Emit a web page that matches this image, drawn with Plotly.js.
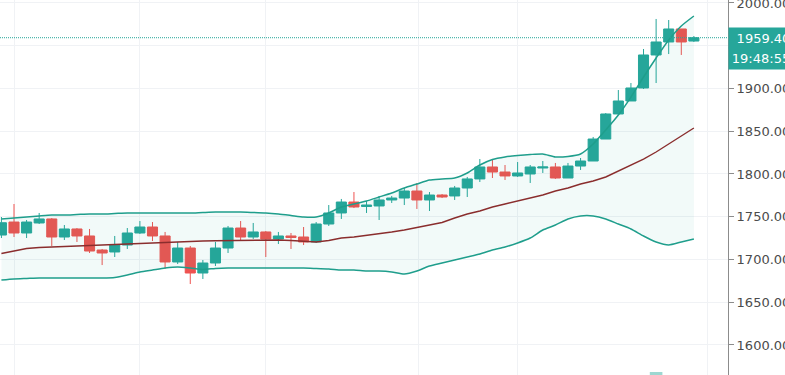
<!DOCTYPE html>
<html>
<head>
<meta charset="utf-8">
<script src="https://cdn.plot.ly/plotly-3.0.1.min.js"></script>
<style>html,body{margin:0;padding:0;background:#fff;}#chart{width:785px;height:375px;}</style>
</head>
<body>
<div id="chart"></div>
<script>
// bar positions (index of each session)
const bars = [-1,0,1,2,3,4,5,6,7,8,9,10,11,12,13,14,15,16,17,18,19,20,21,22,23,24,25,26,27,28,29,30,31,32,33,34,35,36,37,38,39,40,41,42,43,44,45,46,47,48,49,50,51,52,53,54];

const openP  = [1728.6,1743.8,1731.0,1742.7,1747.4,1726.3,1735.7,1727.5,1711.1,1708.8,1716.9,1731.0,1738.0,1727.5,1697.1,1713.4,1684.2,1695.9,1713.4,1736.8,1726.3,1732.2,1724.0,1727.5,1726.3,1720.5,1741.5,1754.4,1767.2,1762.0,1762.6,1769.6,1771.9,1780.1,1769.6,1775.4,1774.3,1783.6,1794.2,1808.2,1802.3,1797.7,1800.0,1807.0,1808.2,1795.3,1809.3,1815.2,1840.9,1870.2,1885.4,1900.6,1939.2,1954.4,1969.6,1955.5];
const highP  = [1749.7,1764.9,1746.2,1754.4,1748.5,1740.3,1736.8,1735.7,1712.3,1727.5,1736.8,1745.0,1743.8,1732.2,1720.5,1715.8,1699.4,1720.5,1739.2,1745.0,1742.7,1733.3,1732.2,1731.0,1738.0,1743.8,1763.7,1770.8,1778.9,1768.4,1774.3,1774.3,1783.6,1789.5,1778.9,1776.6,1786.0,1796.5,1817.5,1816.4,1810.5,1814.0,1810.5,1815.2,1812.9,1812.9,1818.7,1843.3,1871.3,1898.2,1906.4,1946.2,1981.3,1980.1,1969.6,1961.4];
const lowP   = [1725.1,1726.3,1725.1,1741.5,1715.8,1722.8,1720.5,1707.6,1693.5,1702.9,1712.3,1729.8,1721.6,1688.9,1694.7,1671.3,1677.2,1692.4,1707.6,1722.8,1724.0,1702.9,1718.1,1712.3,1716.9,1719.3,1739.2,1747.4,1760.2,1754.4,1746.2,1766.1,1763.7,1759.1,1756.7,1771.9,1769.6,1773.1,1790.6,1795.3,1793.0,1796.5,1789.5,1801.2,1794.2,1795.3,1804.7,1815.2,1840.9,1869.0,1885.4,1899.4,1906.4,1940.3,1939.2,1954.4];
const closeP = [1743.0,1731.0,1743.8,1747.4,1726.3,1735.7,1727.5,1709.9,1707.6,1716.9,1731.0,1738.0,1727.5,1697.1,1713.4,1684.2,1695.9,1713.4,1736.8,1726.3,1732.2,1724.0,1727.5,1725.7,1720.5,1741.5,1754.4,1767.2,1761.4,1763.7,1769.6,1771.9,1780.1,1769.6,1775.4,1773.1,1783.6,1794.2,1808.2,1802.3,1797.7,1801.2,1808.2,1808.2,1795.3,1809.3,1815.2,1840.9,1870.2,1885.4,1900.6,1939.2,1954.4,1969.6,1954.4,1959.4];

// Bollinger bands
const bbUpper = [1747.4,1748.5,1749.7,1750.9,1752.0,1752.0,1752.6,1753.2,1753.2,1753.8,1754.4,1754.4,1754.4,1754.4,1754.4,1754.4,1755.0,1755.5,1755.5,1755.5,1755.0,1754.4,1753.2,1751.5,1749.7,1749.7,1754.4,1761.4,1764.9,1768.4,1773.1,1777.8,1783.6,1788.3,1793.0,1794.2,1795.3,1801.2,1810.5,1816.9,1819.9,1821.6,1822.8,1823.4,1819.9,1820.5,1823.4,1835.1,1851.5,1869.0,1890.0,1913.4,1935.7,1956.7,1973.1,1984.8];
const bbBasis = [1707.0,1709.9,1712.9,1714.0,1714.6,1715.8,1716.1,1716.6,1717.0,1717.5,1718.3,1719.3,1719.5,1720.1,1720.5,1721.0,1721.6,1721.9,1722.2,1722.4,1722.6,1722.8,1722.8,1722.2,1721.0,1720.5,1722.2,1725.1,1726.3,1728.1,1730.4,1732.2,1734.5,1737.4,1740.3,1743.3,1748.5,1753.2,1756.7,1761.4,1764.9,1768.4,1771.9,1775.4,1780.1,1783.6,1788.3,1791.8,1796.5,1803.5,1810.5,1817.5,1825.7,1835.1,1844.4,1853.8];
const bbLower = [1676.0,1677.2,1677.8,1678.4,1678.4,1678.4,1678.4,1678.4,1678.4,1679.0,1681.9,1685.4,1687.7,1690.0,1691.2,1690.0,1688.3,1689.5,1690.0,1690.0,1690.0,1690.0,1690.0,1690.0,1690.0,1689.5,1688.9,1687.7,1687.7,1686.5,1686.5,1685.4,1683.0,1686.5,1692.4,1695.9,1699.4,1702.9,1706.4,1711.1,1714.6,1719.3,1725.1,1734.5,1740.3,1747.4,1750.9,1750.9,1747.4,1741.5,1735.7,1727.5,1720.5,1717.0,1720.5,1724.0];

const yTicks = [1600,1650,1700,1750,1800,1850,1900,1950,2000];
const timeGrid = [0,10,20,32.1,40,55.1];
const lastPrice = 1959.40;
const lastPriceText = "1959.40";
const countdownText = "19:48:55";

const teal = '#26a69a', red = '#ef5350';

const traces = [
  {x: bars, y: bbUpper, type: 'scatter', mode: 'lines', line: {width: 0, color: 'rgba(0,0,0,0)', shape: 'spline', smoothing: 0.6}, hoverinfo: 'skip', showlegend: false},
  {x: bars, y: bbLower, type: 'scatter', mode: 'lines', line: {width: 0, color: 'rgba(0,0,0,0)', shape: 'spline', smoothing: 0.6}, fill: 'tonexty', fillcolor: 'rgba(38,166,154,0.06)', hoverinfo: 'skip', showlegend: false},
  {x: bars, open: openP, high: highP, low: lowP, close: closeP, type: 'candlestick',
   increasing: {line: {color: teal, width: 1}, fillcolor: teal},
   decreasing: {line: {color: red, width: 1}, fillcolor: red},
   whiskerwidth: 0, hoverinfo: 'skip', showlegend: false},
  {x: bars, y: bbBasis, type: 'scatter', mode: 'lines', line: {width: 1.4, color: '#8a2d2d'}, hoverinfo: 'skip', showlegend: false},
  {x: bars, y: bbUpper, type: 'scatter', mode: 'lines', line: {width: 1.5, color: '#1f9e8c', shape: 'spline', smoothing: 0.6}, hoverinfo: 'skip', showlegend: false},
  {x: bars, y: bbLower, type: 'scatter', mode: 'lines', line: {width: 1.5, color: '#1f9e8c', shape: 'spline', smoothing: 0.6}, hoverinfo: 'skip', showlegend: false}
];

const layout = {
  width: 785, height: 375,
  margin: {l: 0, r: 57, t: 0, b: 0, pad: 0},
  paper_bgcolor: '#ffffff', plot_bgcolor: '#ffffff',
  showlegend: false,
  boxgap: 0.2, boxgroupgap: 0,
  xaxis: {range: [-1.112, 56.71], showticklabels: false, tickmode: 'array', tickvals: timeGrid,
          showgrid: true, gridcolor: '#f0f2f5', gridwidth: 1, zeroline: false, showline: false,
          rangeslider: {visible: false}, fixedrange: true},
  yaxis: {side: 'right', range: [1564.9, 2003.5], tickmode: 'array', tickvals: yTicks,
          ticktext: yTicks.map(v => v === 1950 ? '' : v.toFixed(2)),
          ticklabeloverflow: 'allow',
          showgrid: true, gridcolor: '#f0f2f5', gridwidth: 1, zeroline: false,
          showline: true, linecolor: '#8c8c8c', linewidth: 1,
          ticks: 'outside', ticklen: 5, tickcolor: '#8c8c8c',
          tickfont: {family: 'DejaVu Sans', size: 13, color: '#4b4b4b'}, fixedrange: true},
  shapes: [
    {type: 'line', xref: 'paper', x0: 0, x1: 1, yref: 'y', y0: lastPrice, y1: lastPrice,
     line: {color: teal, width: 1, dash: '1px,1px'}},
    {type: 'rect', xref: 'x', x0: 50.5, x1: 51.5, yref: 'paper', y0: 0, y1: 0.008,
     line: {width: 0}, fillcolor: 'rgba(38,166,154,0.45)'}
  ],
  annotations: [
    {xref: 'paper', x: 1, xanchor: 'left', yref: 'y', y: lastPrice, yanchor: 'middle',
     text: lastPriceText, showarrow: false, bgcolor: teal, width: 67, height: 18, borderpad: 1,
     align: 'center', font: {family: 'DejaVu Sans', size: 13, color: '#ffffff'}},
    {xref: 'paper', x: 1, xanchor: 'left', yref: 'y', y: lastPrice, yanchor: 'middle', yshift: -21,
     text: countdownText, showarrow: false, bgcolor: teal, width: 62, height: 19, borderpad: 1,
     align: 'center', font: {family: 'DejaVu Sans', size: 13, color: '#ffffff'}}
  ]
};

Plotly.newPlot('chart', traces, layout, {staticPlot: true, displayModeBar: false});
</script>
</body>
</html>
